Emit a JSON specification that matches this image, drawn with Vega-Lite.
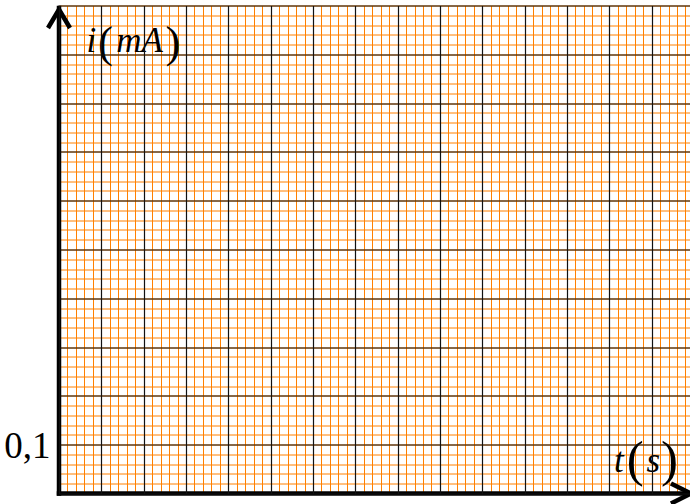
{
  "$schema": "https://vega.github.io/schema/vega-lite/v6.json",
  "width": 631,
  "height": 488,
  "autosize": {"type": "none"},
  "padding": {"left": 59, "top": 5.5, "right": 0, "bottom": 10.5},
  "background": "white",
  "config": {"view": {"stroke": null}},
  "datasets": {
    "labels": [
      {"text": "i", "label": "i(mA)", "part": "letter", "x": 0.763, "y": 0.904},
      {"text": "mA", "label": "i(mA)", "part": "letter", "x": 1.902, "y": 0.904},
      {"text": "(", "label": "i(mA)", "part": "paren", "x": 1.0985, "y": 0.8945},
      {"text": ")", "label": "i(mA)", "part": "paren", "x": 2.691, "y": 0.8945},
      {"text": "t", "label": "t(s)", "part": "letter", "x": 13.229, "y": 0.0447},
      {"text": "s", "label": "t(s)", "part": "letter", "x": 14.04, "y": 0.0447},
      {"text": "(", "label": "t(s)", "part": "paren", "x": 13.615, "y": 0.0359},
      {"text": ")", "label": "t(s)", "part": "paren", "x": 14.422, "y": 0.0359}
    ],
    "origin": [{}]
  },
  "layer": [
    {
      "data": {"name": "labels"},
      "transform": [{"filter": "datum.part == 'letter'"}],
      "mark": {"type": "text", "font": "Liberation Serif", "fontStyle": "italic", "fontSize": 35, "align": "center", "baseline": "alphabetic", "color": "#000"},
      "encoding": {
        "x": {"field": "x", "type": "quantitative", "scale": {"domain": [0, 14.907], "nice": false, "zero": false},
          "axis": {"orient": "top", "grid": true, "gridColor": "#ff8000", "gridWidth": 1, "gridOpacity": 1, "tickCount": 75, "domain": false, "ticks": false, "labels": false, "title": null, "zindex": 0}},
        "y": {"field": "y", "type": "quantitative", "scale": {"domain": [0, 1], "nice": false, "zero": false},
          "axis": {"orient": "right", "grid": true, "gridColor": "#ff8000", "gridWidth": 1, "gridOpacity": 1, "tickCount": 50, "domain": false, "ticks": false, "labels": false, "title": null, "zindex": 0}},
        "text": {"field": "text"}
      }
    },
    {
      "data": {"name": "labels"},
      "transform": [{"filter": "datum.part == 'paren' && datum.label == 'i(mA)'"}],
      "mark": {"type": "text", "font": "Liberation Serif", "fontSize": 45, "align": "center", "baseline": "alphabetic", "color": "#000"},
      "encoding": {
        "x": {"field": "x", "type": "quantitative", "scale": {"domain": [0, 14.907], "nice": false, "zero": false},
          "axis": {"orient": "bottom", "grid": true, "gridColor": "#111", "gridWidth": 1.2, "gridOpacity": 1, "values": [0, 1, 2, 3, 4, 5, 6, 7, 8, 9, 10, 11, 12, 13, 14], "domain": false, "ticks": false, "labels": false, "title": null, "zindex": 1}},
        "y": {"field": "y", "type": "quantitative", "scale": {"domain": [0, 1], "nice": false, "zero": false},
          "axis": {"orient": "left", "grid": true, "gridColor": "#111", "gridWidth": 1.2, "gridOpacity": 1, "values": [0, 0.1, 0.2, 0.3, 0.4, 0.5, 0.6, 0.7, 0.8, 0.9, 1], "domain": false, "ticks": false, "tickSize": 0, "labels": true, "labelExpr": "abs(datum.value - 0.1) < 0.001 ? '0,1' : ''", "labelFont": "Liberation Serif", "labelFontSize": 37, "labelColor": "#000", "labelPadding": 9, "labelBaseline": "alphabetic", "labelOffset": 12.7, "labelFlush": false, "labelOverlap": false, "labelBound": false, "title": null, "zindex": 1}},
        "text": {"field": "text"}
      }
    },
    {
      "data": {"name": "labels"},
      "transform": [{"filter": "datum.part == 'paren' && datum.label == 't(s)'"}],
      "mark": {"type": "text", "font": "Liberation Serif", "fontSize": 51, "align": "center", "baseline": "alphabetic", "color": "#000"},
      "encoding": {
        "x": {"field": "x", "type": "quantitative", "axis": null},
        "y": {"field": "y", "type": "quantitative", "axis": null},
        "text": {"field": "text"}
      }
    },
    {
      "data": {"name": "origin"},
      "mark": {"type": "rule", "color": "#000", "strokeWidth": 4.5, "strokeCap": "square"},
      "encoding": {
        "x": {"datum": 0, "type": "quantitative", "axis": null},
        "y": {"datum": 0, "type": "quantitative", "axis": null},
        "y2": {"datum": 0.995}
      }
    },
    {
      "data": {"name": "origin"},
      "mark": {"type": "rule", "color": "#000", "strokeWidth": 4.5, "strokeCap": "square"},
      "encoding": {
        "x": {"datum": 0, "type": "quantitative", "axis": null},
        "x2": {"datum": 14.9},
        "y": {"datum": 0, "type": "quantitative", "axis": null}
      }
    },
    {
      "data": {"name": "origin"},
      "mark": {"type": "point", "shape": "M-0.55,0.925L0,0L0.55,0.925", "size": 1600, "filled": false, "stroke": "#000", "strokeWidth": 4.5, "strokeJoin": "miter", "strokeCap": "butt", "opacity": 1},
      "encoding": {
        "x": {"datum": 0, "type": "quantitative", "axis": null},
        "y": {"datum": 0.9918, "type": "quantitative", "axis": null}
      }
    },
    {
      "data": {"name": "origin"},
      "mark": {"type": "point", "shape": "M-1,-0.5L0,0L-1,0.5", "size": 1600, "filled": false, "stroke": "#000", "strokeWidth": 4.5, "strokeJoin": "miter", "strokeCap": "butt", "opacity": 1},
      "encoding": {
        "x": {"datum": 14.93, "type": "quantitative", "axis": null},
        "y": {"datum": 0, "type": "quantitative", "axis": null}
      }
    }
  ],
  "resolve": {"axis": {"x": "independent", "y": "independent"}}
}
